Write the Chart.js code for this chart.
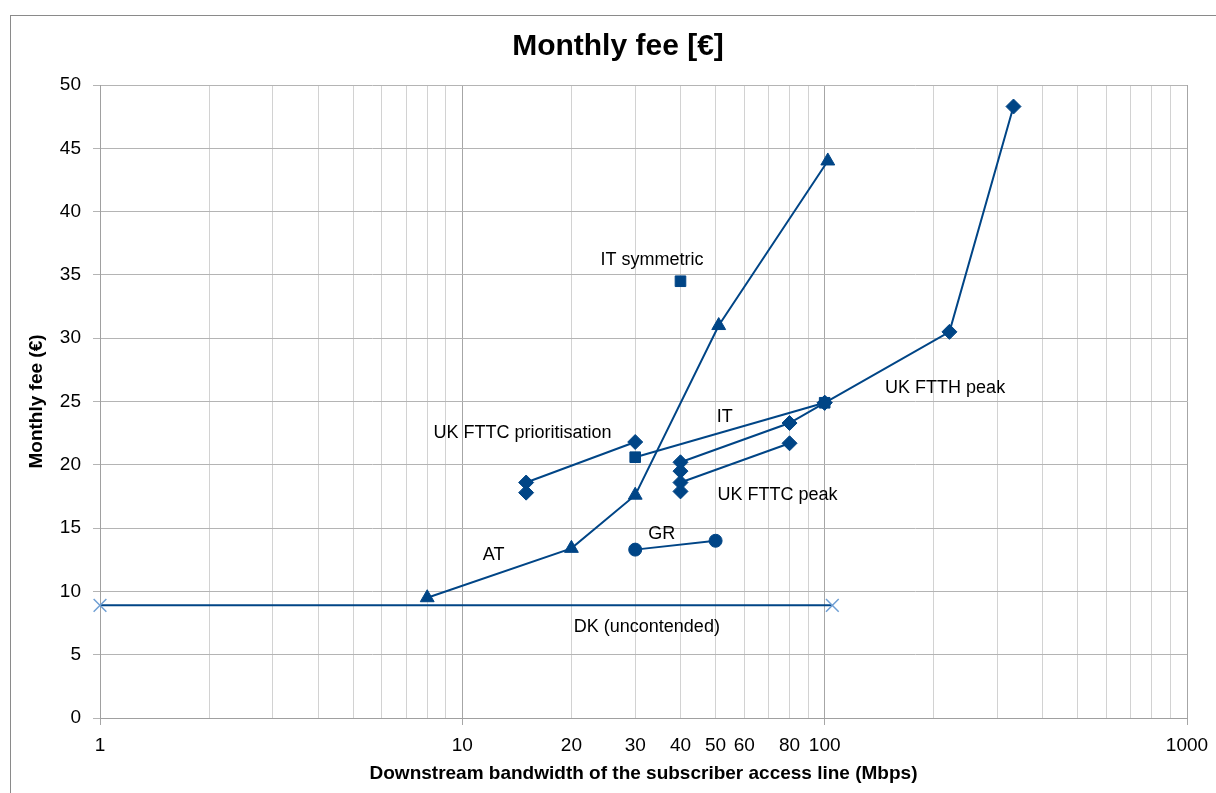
<!DOCTYPE html>
<html>
<head>
<meta charset="utf-8">
<script src="https://cdn.jsdelivr.net/npm/chart.js@4/dist/chart.umd.min.js"></script>
<style>
  html, body { margin: 0; padding: 0; background: #fff; overflow: hidden; }
  #frame { position: absolute; left: 10px; top: 15px; width: 1400px; height: 1000px; border: 1px solid #8a8a8a; }
  #chart { position: absolute; left: 0; top: 0; }
</style>
</head>
<body>
<div id="frame"></div>
<canvas id="chart" width="1216" height="793"></canvas>
<script>
// values (x = Mbps, y = EUR per month)
const dk_x = [1, 105];
const dk_y = [8.9, 8.9];

const at_x = [8, 20, 30, 51, 102];
const at_y = [9.5, 13.4, 17.6, 31.0, 44.0];

const gr_x = [30, 50];
const gr_y = [13.3, 14.0];

const it_x = [30, 100];
const it_y = [20.6, 24.9];

const it_sym_x = [40];
const it_sym_y = [34.5];

const uk_ftth_x = [100, 221, 332];
const uk_ftth_y = [24.9, 30.5, 48.3];

const uk_prio_x = [15, 30];
const uk_prio_y = [18.6, 21.8];
const uk_prio_extra_x = [15];
const uk_prio_extra_y = [17.8];

const uk_peak_a_x = [40, 80, 100];
const uk_peak_a_y = [20.2, 23.3, 24.9];
const uk_peak_b_x = [40, 80];
const uk_peak_b_y = [18.6, 21.7];
const uk_peak_extra_x = [40, 40];
const uk_peak_extra_y = [19.5, 17.9];

const x_tick_labels = [1, 10, 20, 30, 40, 50, 60, 80, 100, 1000];
const y_ticks = [0, 5, 10, 15, 20, 25, 30, 35, 40, 45, 50];

// text labels inside the plot, anchored in data units
const note_text = ['IT symmetric', 'UK FTTH peak', 'IT', 'UK FTTC prioritisation', 'UK FTTC peak', 'GR', 'AT', 'DK (uncontended)'];
const note_x = [33.4, 215, 53, 14.66, 74.1, 35.5, 12.2, 32.3];
const note_y = [36.2, 26.1, 23.8, 22.5, 17.6, 14.5, 12.9, 7.2];

const BLUE = '#004586';
const FONT = 'Liberation Sans, Arial, sans-serif';

function pts(xs, ys) {
  return xs.map((x, i) => ({ x: x, y: ys[i] }));
}

function series(xs, ys, style, radius, line) {
  return {
    data: pts(xs, ys),
    showLine: line,
    borderColor: BLUE,
    borderWidth: 2,
    backgroundColor: BLUE,
    pointStyle: style,
    pointRadius: radius,
    pointHoverRadius: radius,
    pointBackgroundColor: BLUE,
    pointBorderColor: BLUE,
    pointBorderWidth: 1
  };
}

const dk = series(dk_x, dk_y, 'crossRot', 9, true);
dk.pointBorderColor = '#6f9fd4';
dk.pointBackgroundColor = '#6f9fd4';
dk.pointBorderWidth = 1.5;
dk.clip = false;

const datasets = [
  dk,
  series(at_x, at_y, 'triangle', 8, true),
  series(gr_x, gr_y, 'circle', 6.5, true),
  series(it_x, it_y, 'rect', 7.5, true),
  series(it_sym_x, it_sym_y, 'rect', 7.5, false),
  series(uk_ftth_x, uk_ftth_y, 'rectRot', 7.5, true),
  series(uk_prio_x, uk_prio_y, 'rectRot', 7.5, true),
  series(uk_prio_extra_x, uk_prio_extra_y, 'rectRot', 7.5, false),
  series(uk_peak_a_x, uk_peak_a_y, 'rectRot', 7.5, true),
  series(uk_peak_b_x, uk_peak_b_y, 'rectRot', 7.5, true),
  series(uk_peak_extra_x, uk_peak_extra_y, 'rectRot', 7.5, false)
];

// grid lines on every 1..9 x 10^n
const x_grid = [];
for (let d = 0; d < 3; d++) {
  for (let k = 1; k < 10; k++) x_grid.push(k * Math.pow(10, d));
}
x_grid.push(1000);

function isDecade(v) {
  return v === 1 || v === 10 || v === 100 || v === 1000;
}

const notes_plugin = {
  id: 'notes',
  afterDatasetsDraw: (chart) => {
    const ctx = chart.ctx;
    const sx = chart.scales.x, sy = chart.scales.y;
    ctx.save();
    ctx.font = '18px ' + FONT;
    ctx.fillStyle = '#000';
    ctx.textAlign = 'center';
    ctx.textBaseline = 'middle';
    note_text.forEach((t, i) => {
      ctx.fillText(t, sx.getPixelForValue(note_x[i]), sy.getPixelForValue(note_y[i]));
    });
    ctx.restore();
  }
};

const config = {
  type: 'scatter',
  data: { datasets: datasets },
  options: {
    responsive: false,
    animation: false,
    devicePixelRatio: 1,
    layout: { padding: { left: 20, right: 0, top: 0, bottom: 0 } },
    plugins: {
      legend: { display: false },
      tooltip: { enabled: false },
      title: {
        display: true,
        text: 'Monthly fee [€]',
        color: '#000',
        font: { family: FONT, size: 30, weight: 'bold' },
        padding: { top: 29, bottom: 20 }
      }
    },
    scales: {
      x: {
        type: 'logarithmic',
        min: 1,
        max: 1000,
        afterBuildTicks: (scale) => {
          scale.ticks = x_grid.map(v => ({ value: v }));
        },
        afterFit: (scale) => {
          scale.height = 75;
          scale.paddingRight = 29;
        },
        ticks: {
          autoSkip: false,
          maxRotation: 0,
          padding: 9,
          color: '#000',
          font: { family: FONT, size: 19 },
          callback: (v) => x_tick_labels.includes(v) ? String(v) : ''
        },
        grid: {
          color: (c) => (c.tick && isDecade(c.tick.value)) ? '#a6a6a6' : '#d2d2d2',
          tickColor: (c) => (c.tick && isDecade(c.tick.value)) ? '#a6a6a6' : 'rgba(0,0,0,0)',
          tickLength: 7,
          lineWidth: 1
        },
        border: { color: '#a0a0a0' },
        title: {
          display: true,
          text: 'Downstream bandwidth of the subscriber access line (Mbps)',
          color: '#000',
          font: { family: FONT, size: 19, weight: 'bold' },
          padding: { top: 0, bottom: 7.5 }
        }
      },
      y: {
        min: 0,
        max: 50,
        afterBuildTicks: (scale) => {
          scale.ticks = y_ticks.map(v => ({ value: v }));
        },
        afterFit: (scale) => {
          scale.width = 80;
        },
        ticks: {
          padding: 12,
          color: '#000',
          font: { family: FONT, size: 19 }
        },
        grid: {
          color: '#b4b4b4',
          tickColor: '#b4b4b4',
          tickLength: 7
        },
        border: { color: '#a0a0a0' },
        title: {
          display: true,
          text: 'Monthly fee (€)',
          color: '#000',
          font: { family: FONT, size: 19, weight: 'bold' },
          padding: { top: 5.6, bottom: 0 }
        }
      }
    }
  },
  plugins: [notes_plugin]
};

new Chart(document.getElementById('chart'), config);
</script>
</body>
</html>
